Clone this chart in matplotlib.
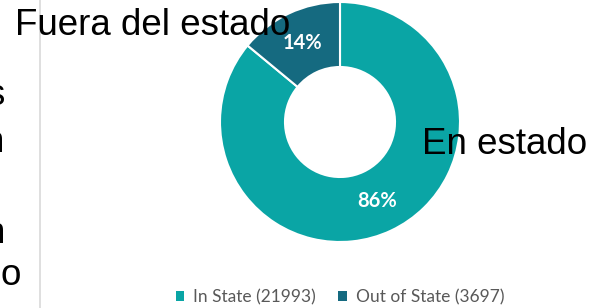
"""Donut chart: in-state vs out-of-state split, with Spanish overlay labels."""
import matplotlib
matplotlib.use("Agg")
import matplotlib.pyplot as plt
from matplotlib.lines import Line2D
from matplotlib.patches import Rectangle

W, H = 591, 308

labels = ["In State", "Out of State"]
counts = [21993, 3697]
pcts = [86, 14]
colors = ["#0aa5a5", "#156a80"]

overlay_es = ["En estado", "Fuera del estado"]
left_fragments = ["s", "n", "n", "o"]


def fx(px):
  return px / W


def fy(py):
  return 1 - py / H


fig = plt.figure(figsize=(W / 100, H / 100), dpi=100)
fig.patch.set_facecolor("white")

# donut, centre ~ (340, 122) px, outer radius 120 px, inner 55 px
cx, cy, r = 340, 122, 120
ax = fig.add_axes([fx(cx - r), fy(cy + r), 2 * r / W, 2 * r / H])

wedges, _, autotexts = ax.pie(
  pcts, colors=colors, startangle=90, counterclock=False, radius=1,
  autopct=lambda p: f"{p:.0f}%", pctdistance=0.73,
  wedgeprops=dict(width=1 - 55 / 120, edgecolor="white", linewidth=1.5),
  textprops=dict(color="white", fontsize=14.5, fontweight="bold", family="Lato"),
)
ax.set_xlim(-1, 1)
ax.set_ylim(-1, 1)
ax.set_aspect("auto")
ax.axis("off")

# legend at bottom
handles = [Rectangle((0, 0), 1, 1, facecolor=c, edgecolor="none") for c in colors]
leg_labels = [f"{l} ({n})" for l, n in zip(labels, counts)]
fig.legend(handles, leg_labels, loc="center", bbox_to_anchor=(fx(340), fy(297)),
           ncol=2, frameon=False, handlelength=0.5, handleheight=0.5,
           handletextpad=0.5, columnspacing=1.3, borderaxespad=0,
           prop=dict(family="Lato", size=12.5), labelcolor="#595959")

# thin grey divider on the left
fig.add_artist(Line2D([fx(40), fx(40)], [0, 1], color="#d9d9d9", linewidth=1.2,
                      transform=fig.transFigure))

txt_kw = dict(family="Liberation Sans", fontsize=26.5, color="black", va="baseline")
fig.text(fx(15), fy(35), overlay_es[1], ha="left", **txt_kw)
fig.text(fx(422), fy(154), overlay_es[0], ha="left", **txt_kw)

# clipped letters at the left edge
frag_pos = [(4, 105), (4, 152), (5, 243), (21, 285)]
for ch, (x, y) in zip(left_fragments, frag_pos):
  fig.text(fx(x), fy(y), ch, ha="right", **txt_kw)

fig.savefig("out.png", dpi=100)
